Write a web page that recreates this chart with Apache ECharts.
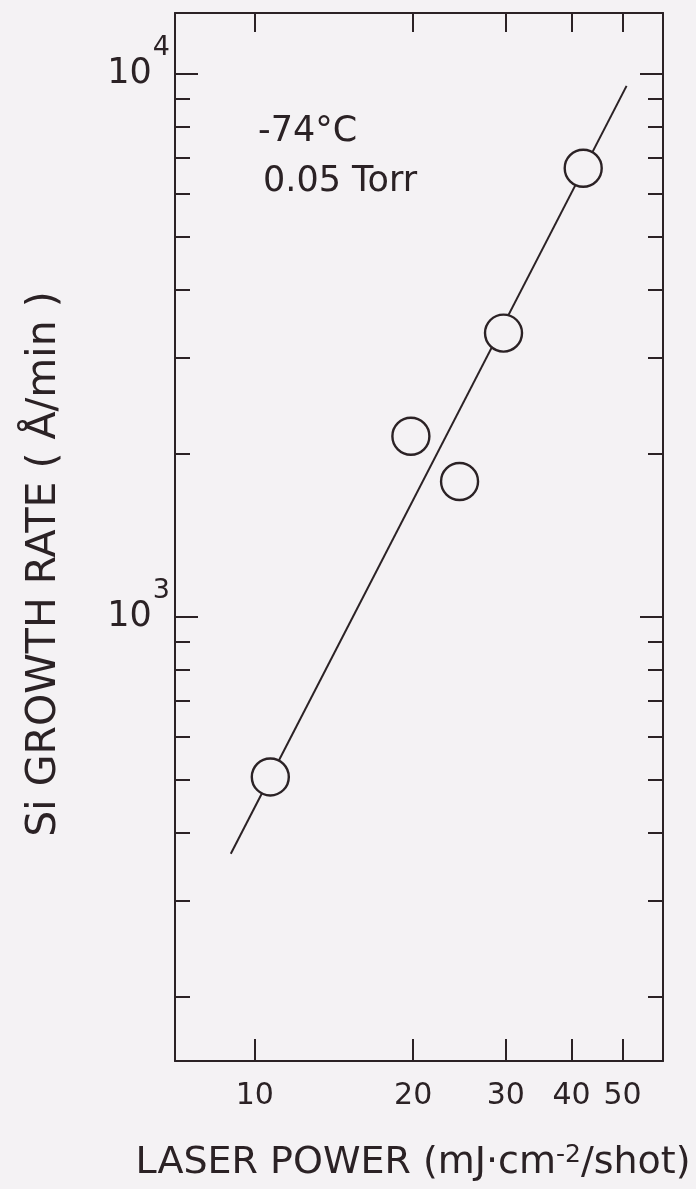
<!DOCTYPE html>
<html>
<head>
<meta charset="utf-8">
<script src="https://cdn.jsdelivr.net/npm/echarts@6/dist/echarts.min.js"></script>
<style>
  html, body { margin: 0; padding: 0; background: #f4f2f4; }
  #chart { width: 696px; height: 1189px; }
</style>
</head>
<body>
<div id="chart"></div>
<script>
// Measured growth rate of Si versus laser power (log-log)
const laserPower = [10.7, 19.8, 24.5, 29.7, 42.1];      // mJ·cm^-2/shot
const growthRate = [507, 2150, 1775, 3330, 6700];        // Å/min

// Fitted straight line (end points)
const fitPower = [9.0, 50.9];
const fitRate = [366, 9500];

// Axis ranges and ticks
const xRange = [7.05, 59.7];
const yRange = [152, 12940];
const xTickValues = [10, 20, 30, 40, 50];
const yMajorTicks = [1000, 10000];
const yMinorTicks = [200, 300, 400, 500, 600, 700, 800, 900,
                     2000, 3000, 4000, 5000, 6000, 7000, 8000, 9000];

const annotations = ['-74°C', '0.05 Torr'];

const INK = '#2b2225';
const BG = '#f4f2f4';
const lg = Math.log10;

const chart = echarts.init(document.getElementById('chart'), null, { renderer: 'canvas' });

function yAxisDef(position, ticks, len, showLabel, showLine) {
  return {
    type: 'value',
    position: position,
    min: lg(yRange[0]),
    max: lg(yRange[1]),
    axisLine: { show: showLine, onZero: false, lineStyle: { color: INK, width: 2 } },
    axisTick: { show: true, inside: true, length: len, customValues: ticks.map(lg),
                lineStyle: { color: INK, width: 2 } },
    axisLabel: {
      show: showLabel,
      customValues: yMajorTicks.map(lg),
      margin: 5,
      formatter: v => '{b|10}{sup|' + Math.round(v) + '}',
      rich: {
        // tall line box: mantissa sits low, exponent hugs the top
        b: { fontFamily: 'DejaVu Sans', fontSize: 35, color: INK, lineHeight: 79,
             padding: [0, 0, 22, 0], verticalAlign: 'bottom' },
        sup: { fontFamily: 'DejaVu Sans', fontSize: 27, color: INK, lineHeight: 27,
               padding: [0, 0, 0, 1], verticalAlign: 'top' }
      }
    },
    splitLine: { show: false }
  };
}

const option = {
  backgroundColor: BG,
  animation: false,
  grid: { left: 175, right: 33, top: 13, bottom: 128 },
  xAxis: [
    {
      type: 'value',
      position: 'bottom',
      min: lg(xRange[0]),
      max: lg(xRange[1]),
      name: 'LASER POWER (mJ·cm{sup|-2}/shot)',
      nameLocation: 'middle',
      nameGap: 82,
      nameTextStyle: {
        fontFamily: 'DejaVu Sans', fontSize: 38, color: INK, padding: [0, 12, 0, 0],
        rich: { sup: { fontFamily: 'DejaVu Sans', fontSize: 25, color: INK, verticalAlign: 'top', padding: [0, 0, 16, 0] } }
      },
      axisLine: { onZero: false, lineStyle: { color: INK, width: 2 } },
      axisTick: { inside: true, length: 22, customValues: xTickValues.map(lg),
                  lineStyle: { color: INK, width: 2 } },
      axisLabel: {
        customValues: xTickValues.map(lg),
        margin: 20,
        fontFamily: 'DejaVu Sans', fontSize: 30, color: INK,
        formatter: v => String(Math.round(Math.pow(10, v)))
      },
      splitLine: { show: false }
    },
    {
      type: 'value',
      position: 'top',
      min: lg(xRange[0]),
      max: lg(xRange[1]),
      axisLine: { onZero: false, lineStyle: { color: INK, width: 2 } },
      axisTick: { inside: true, length: 19, customValues: xTickValues.map(lg),
                  lineStyle: { color: INK, width: 2 } },
      axisLabel: { show: false },
      splitLine: { show: false }
    }
  ],
  yAxis: [
    Object.assign(yAxisDef('left', yMinorTicks.concat(yMajorTicks), 15, true, true), {
      name: 'Si GROWTH RATE ( Å/min )',
      nameLocation: 'middle',
      nameGap: 110,
      nameTextStyle: { fontFamily: 'DejaVu Sans', fontSize: 41, color: INK, padding: [0, 54, 0, 0] }
    }),
    yAxisDef('left', yMajorTicks, 23, false, false),
    yAxisDef('right', yMinorTicks.concat(yMajorTicks), 15, false, true),
    yAxisDef('right', yMajorTicks, 23, false, false)
  ],
  graphic: [
    { type: 'text', left: 258, top: 114,
      style: { text: annotations[0], font: '35px "DejaVu Sans"', fill: INK } },
    { type: 'text', left: 263, top: 164,
      style: { text: annotations[1], font: '35px "DejaVu Sans"', fill: INK } }
  ],
  series: [
    {
      type: 'line',
      xAxisIndex: 0, yAxisIndex: 0,
      data: fitPower.map((p, i) => [lg(p), lg(fitRate[i])]),
      symbol: 'none',
      lineStyle: { color: INK, width: 2 },
      z: 2
    },
    {
      type: 'scatter',
      xAxisIndex: 0, yAxisIndex: 0,
      data: laserPower.map((p, i) => [lg(p), lg(growthRate[i])]),
      symbol: 'circle',
      symbolSize: 37,
      itemStyle: { color: BG, borderColor: INK, borderWidth: 2.4, opacity: 1 },
      z: 3
    }
  ]
};

chart.setOption(option);
</script>
</body>
</html>
